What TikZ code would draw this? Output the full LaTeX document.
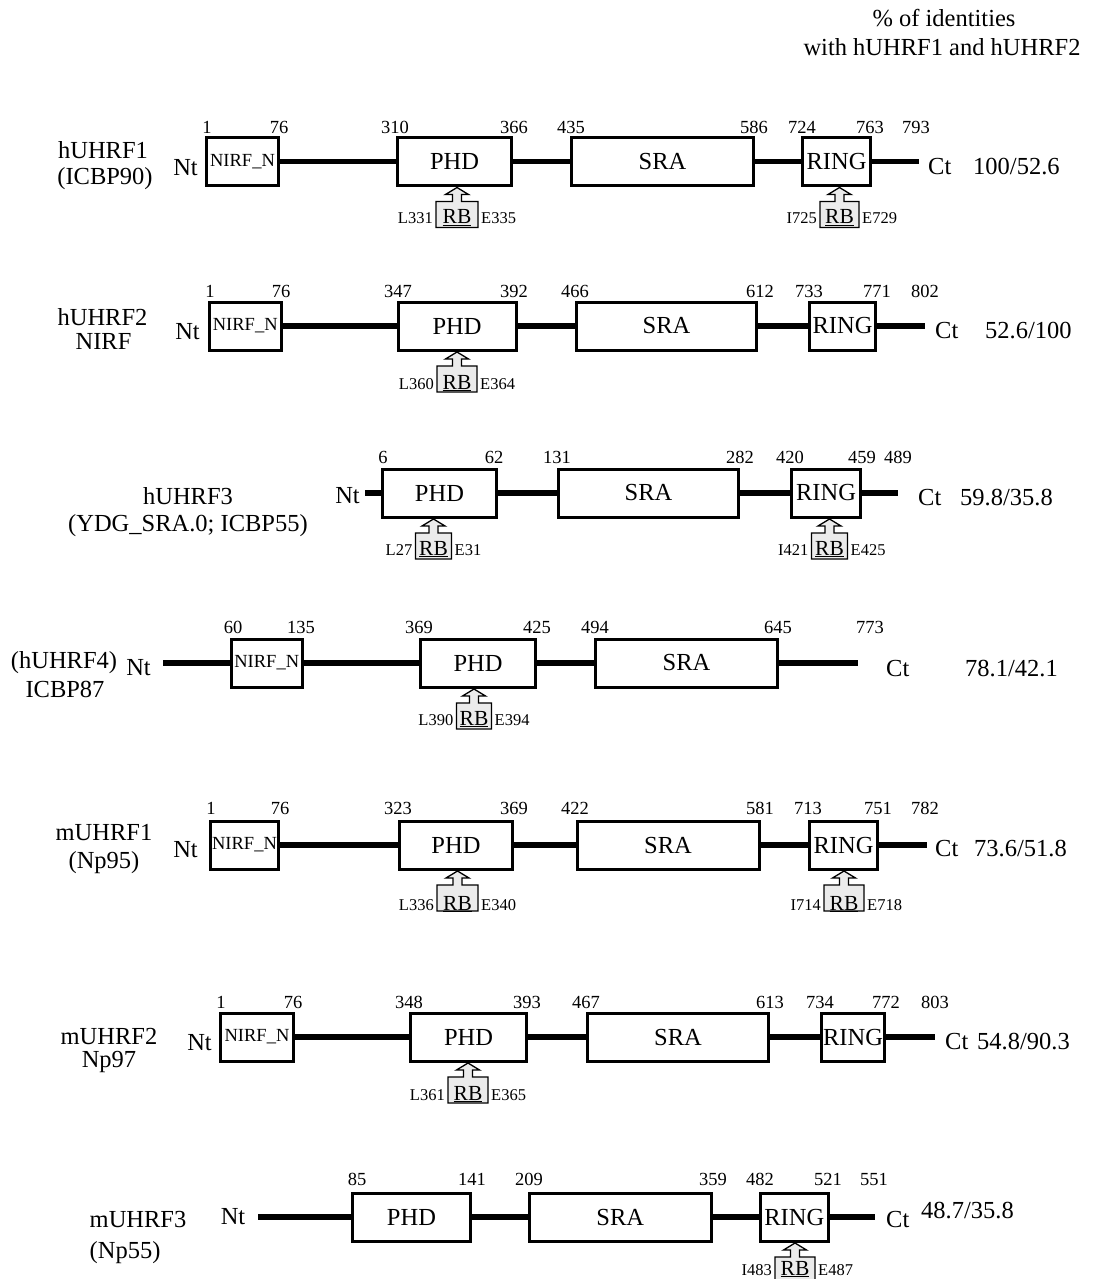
\documentclass[tikz,border=0pt]{standalone}
\usepackage{fontspec}
\setmainfont{Liberation Serif}
\tikzset{
  dom/.style={draw, line width=3pt, fill=white, minimum height=48pt, inner sep=0pt,
    font=\fontsize{24.5}{26}\selectfont},
  nirf/.style={font=\fontsize{18.5}{20}\selectfont},
  num/.style={anchor=base, inner sep=0pt, font=\fontsize{18.5}{20}\selectfont},
  big/.style={anchor=base, inner sep=0pt, font=\fontsize{24.5}{27}\selectfont},
  small/.style={anchor=base, inner sep=0pt, font=\fontsize{16.5}{18}\selectfont},
  rbt/.style={anchor=base, inner sep=0pt, font=\fontsize{21.5}{23}\selectfont},
  backbone/.style={line width=5.5pt},
  rbshape/.style={draw, line width=1.3pt, fill=black!8},
}
% domain box: [opts] name, x1, x2, y, text
\newcommand\Dom[6][]{%
  \node[dom,#1,minimum width={#4-#3-3}] (#2) at ({(#3+#4)/2},#5) {#6};}
% number labels above the line
\newcommand\Nums[3]{%
  \foreach \xx/\tt [count=\i] in {#3} {\node[num] (#1l\i) at (\xx,#2) {\tt};}}
% RB box: name, cx, half width, line y, left text, right text, text baseline offset
\newcommand\RB[7]{%
  \draw[rbshape] (#2-#3,#4+66) -- (#2-#3,#4+40) -- (#2-4.5,#4+40) -- (#2-4.5,#4+33)
    -- (#2-11.5,#4+33) -- (#2,#4+26) -- (#2+11.5,#4+33) -- (#2+4.5,#4+33)
    -- (#2+4.5,#4+40) -- (#2+#3,#4+40) -- (#2+#3,#4+66) -- cycle;
  \node[rbt] (#1) at (#2,#4+#7) {\underline{RB}};
  \node[small,anchor=base east] (#1L) at (#2-#3-3,#4+#7) {#5};
  \node[small,anchor=base west] (#1R) at (#2+#3+3,#4+#7) {#6};}
\begin{document}
\begin{tikzpicture}[x=1pt,y=-1pt]
\fill[white] (0,0) rectangle (1096,1279);
\useasboundingbox (0,0) rectangle (1096,1279);

% header
\node[big] (h1) at (944,27) {\% of identities};
\node[big] (h2) at (942,56) {with hUHRF1 and hUHRF2};

% ---------- row 1: hUHRF1 ----------
\node[big] (r1n1) at (103,158.5) {hUHRF1};
\node[big] (r1n2) at (105,184.5) {(ICBP90)};
\node[big,anchor=base east] (r1nt) at (198,175) {Nt};
\coordinate (r1s) at (205,161.5); \coordinate (r1e) at (919,161.5);
\draw[backbone] (r1s) -- (r1e);
\Dom[nirf]{r1a}{205}{280}{161.5}{NIRF\_N}
\Dom{r1b}{396}{513}{161.5}{PHD}
\Dom{r1c}{570}{755}{161.5}{SRA}
\Dom{r1d}{801}{872}{161.5}{RING}
\Nums{r1}{133.5}{207/1,279/76,395/310,514/366,571/435,754/586,802/724,870/763,916/793}
\node[big,anchor=base west] (r1ct) at (928,174) {Ct};
\node[big,anchor=base west] (r1p) at (973,174) {100/52.6};
\RB{r1rb1}{457}{21}{161.5}{L331}{E335}{62}
\RB{r1rb2}{839.5}{19.5}{161.5}{I725}{E729}{62}

% ---------- row 2: hUHRF2 ----------
\node[big] (r2n1) at (102.5,325) {hUHRF2};
\node[big] (r2n2) at (103.5,349.5) {NIRF};
\node[big,anchor=base east] (r2nt) at (200,339) {Nt};
\coordinate (r2s) at (208,326); \coordinate (r2e) at (925,326);
\draw[backbone] (r2s) -- (r2e);
\Dom[nirf]{r2a}{208}{282.5}{326}{NIRF\_N}
\Dom{r2b}{396.5}{517.5}{326}{PHD}
\Dom{r2c}{575}{758}{326}{SRA}
\Dom{r2d}{808}{877}{326}{RING}
\Nums{r2}{297}{210/1,281/76,398/347,514/392,575/466,760/612,809/733,877/771,925/802}
\node[big,anchor=base west] (r2ct) at (935,338) {Ct};
\node[big,anchor=base west] (r2p) at (985,338) {52.6/100};
\RB{r2rb1}{457}{20}{326}{L360}{E364}{63}

% ---------- row 3: hUHRF3 ----------
\node[big] (r3n1) at (188,504) {hUHRF3};
\node[big] (r3n2) at (188,531) {(YDG\_SRA.0; ICBP55)};
\node[big,anchor=base east] (r3nt) at (360,503) {Nt};
\coordinate (r3s) at (365,493); \coordinate (r3e) at (898,493);
\draw[backbone] (r3s) -- (r3e);
\Dom{r3b}{381}{498}{493}{PHD}
\Dom{r3c}{557}{740}{493}{SRA}
\Dom{r3d}{790}{862}{493}{RING}
\Nums{r3}{463}{383/6,494/62,557/131,740/282,790/420,862/459,898/489}
\node[big,anchor=base west] (r3ct) at (918,505) {Ct};
\node[big,anchor=base west] (r3p) at (960,505) {59.8/35.8};
\RB{r3rb1}{433.5}{18}{493}{L27}{E31}{62}
\RB{r3rb2}{829.5}{18}{493}{I421}{E425}{62}

% ---------- row 4: hUHRF4 ----------
\node[big] (r4n1) at (64,668) {(hUHRF4)};
\node[big] (r4n2) at (65,697) {ICBP87};
\node[big,anchor=base east] (r4nt) at (151,675) {Nt};
\coordinate (r4s) at (163,663); \coordinate (r4e) at (857.5,663);
\draw[backbone] (r4s) -- (r4e);
\Dom[nirf]{r4a}{230}{303.5}{663}{NIRF\_N}
\Dom{r4b}{419}{537}{663}{PHD}
\Dom{r4c}{594}{779}{663}{SRA}
\Nums{r4}{633}{233/60,301/135,419/369,537/425,595/494,778/645,870/773}
\node[big,anchor=base west] (r4ct) at (886,676) {Ct};
\node[big,anchor=base west] (r4p) at (965,676) {78.1/42.1};
\RB{r4rb1}{474}{17.5}{663}{L390}{E394}{62}

% ---------- row 5: mUHRF1 ----------
\node[big] (r5n1) at (104,840) {mUHRF1};
\node[big] (r5n2) at (104,868) {(Np95)};
\node[big,anchor=base east] (r5nt) at (198,857) {Nt};
\coordinate (r5s) at (209,845); \coordinate (r5e) at (926.5,845);
\draw[backbone] (r5s) -- (r5e);
\Dom[nirf]{r5a}{209}{280}{845}{NIRF\_N}
\Dom{r5b}{398}{514}{845}{PHD}
\Dom{r5c}{575.5}{760.5}{845}{SRA}
\Dom{r5d}{808}{879}{845}{RING}
\Nums{r5}{814}{211/1,280/76,398/323,514/369,575/422,760/581,808/713,878/751,925/782}
\node[big,anchor=base west] (r5ct) at (935,856) {Ct};
\node[big,anchor=base west] (r5p) at (974,856) {73.6/51.8};
\RB{r5rb1}{457.5}{20.5}{845}{L336}{E340}{65}
\RB{r5rb2}{844}{20}{845}{I714}{E718}{65}

% ---------- row 6: mUHRF2 ----------
\node[big] (r6n1) at (109,1044) {mUHRF2};
\node[big] (r6n2) at (109,1067) {Np97};
\node[big,anchor=base east] (r6nt) at (212,1050) {Nt};
\coordinate (r6s) at (219,1037); \coordinate (r6e) at (935,1037);
\draw[backbone] (r6s) -- (r6e);
\Dom[nirf]{r6a}{219}{295}{1037}{NIRF\_N}
\Dom{r6b}{409}{528}{1037}{PHD}
\Dom{r6c}{586}{770}{1037}{SRA}
\Dom{r6d}{820}{886}{1037}{RING}
\Nums{r6}{1008}{221/1,293/76,409/348,527/393,586/467,770/613,820/734,886/772,935/803}
\node[big,anchor=base west] (r6ct) at (945,1049) {Ct};
\node[big,anchor=base west] (r6p) at (977,1049) {54.8/90.3};
\RB{r6rb1}{468}{20}{1037}{L361}{E365}{63}

% ---------- row 7: mUHRF3 ----------
\node[big,anchor=base west] (r7n1) at (89.5,1227) {mUHRF3};
\node[big,anchor=base west] (r7n2) at (89.5,1258) {(Np55)};
\node[big,anchor=base east] (r7nt) at (245.5,1224) {Nt};
\coordinate (r7s) at (258,1217); \coordinate (r7e) at (875,1217);
\draw[backbone] (r7s) -- (r7e);
\Dom{r7b}{351}{472}{1217}{PHD}
\Dom{r7c}{528}{712.5}{1217}{SRA}
\Dom{r7d}{759}{829.5}{1217}{RING}
\Nums{r7}{1185}{357/85,472/141,529/209,713/359,760/482,828/521,874/551}
\node[big,anchor=base west] (r7ct) at (886,1227) {Ct};
\node[big,anchor=base west] (r7p) at (921,1218) {48.7/35.8};
\RB{r7rb1}{795}{20}{1217}{I483}{E487}{58}
\end{tikzpicture}
\end{document}
